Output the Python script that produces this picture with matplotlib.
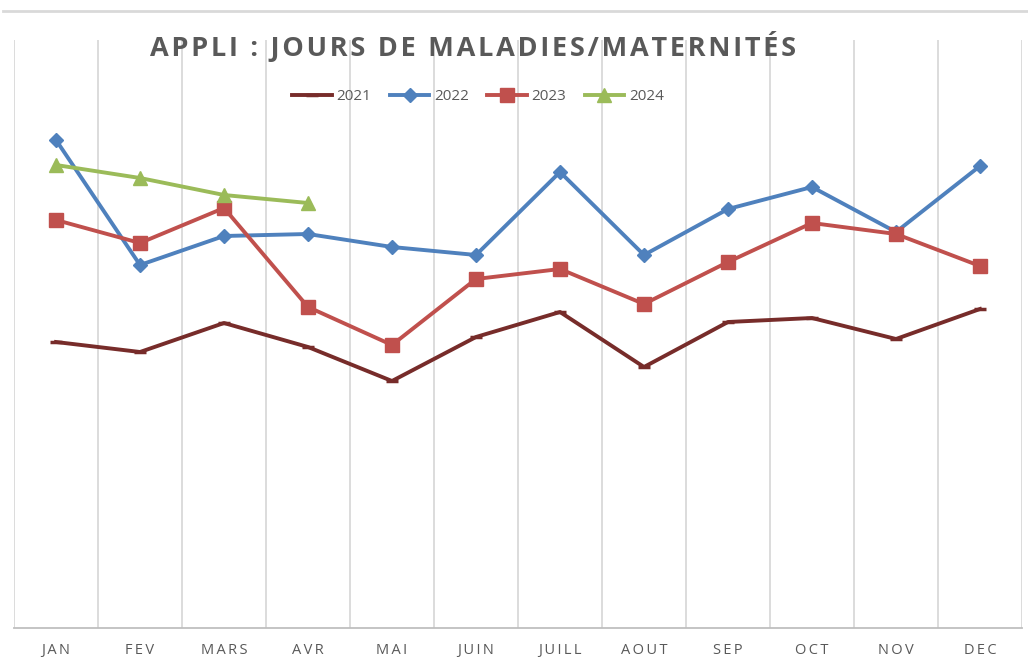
import numpy as np
import matplotlib
matplotlib.use("Agg")
from matplotlib import pyplot as plt
from matplotlib.lines import Line2D

months = ["JAN", "FEV", "MARS", "AVR", "MAI", "JUIN", "JUILL", "AOUT", "SEP", "OCT", "NOV", "DEC"]
v2021 = [28.6, 27.6, 30.5, 28.1, 24.7, 29.1, 31.6, 26.1, 30.6, 31.0, 28.9, 31.9]
v2022 = [48.8, 36.3, 39.2, 39.4, 38.1, 37.3, 45.6, 37.3, 41.9, 44.1, 39.6, 46.2]
v2023 = [40.8, 38.5, 42.0, 32.1, 28.3, 34.9, 35.9, 32.4, 36.6, 40.5, 39.4, 36.2]
v2024 = [46.3, 45.0, 43.3, 42.5]

TEXT = "#595959"
GRID = "#D9D9D9"

plt.rcParams['font.family'] = ['Open Sans', 'DejaVu Sans']


def spaced(s, sep):
    # fake letter spacing like the original
    return sep.join(s)


fig = plt.figure(figsize=(10.28, 6.66), dpi=100)
ax = fig.add_axes([14 / 1028, 38 / 666, 1008 / 1028, 588 / 666])

x = np.arange(len(months))
ax.plot(x, v2021, color="#772C2A", lw=2.8, marker="_", ms=8, mew=2.5, label="2021")
ax.plot(x, v2022, color="#4F81BD", lw=2.8, marker="D", ms=7, label="2022")
ax.plot(x, v2023, color="#C0504D", lw=2.8, marker="s", ms=10, label="2023")
ax.plot(np.arange(len(v2024)), v2024, color="#9BBB59", lw=2.8, marker="^", ms=10, label="2024")

for k in range(-1, len(months)):
    ax.axvline(k + 0.5, color=GRID, lw=1.3, zorder=0)

ax.set_xlim(-0.5, len(months) - 0.5)
ax.set_ylim(0, 58.8)
ax.set_yticks([])
ax.set_xticks(x)
ax.set_xticklabels([spaced(m, "\u2009") for m in months], color=TEXT, fontsize=10.5)
ax.tick_params(axis="x", length=0, pad=11)
for s in ["top", "left", "right"]:
    ax.spines[s].set_visible(False)
ax.spines["bottom"].set_color("#BFBFBF")
ax.spines["bottom"].set_linewidth(1.3)

# thin top border line
fig.add_artist(Line2D([3 / 1028, 1], [1 - 11 / 666, 1 - 11 / 666], color="#D9D9D9", lw=2))

fig.text(473 / 1028, 1 - 46 / 666, spaced("APPLI : JOURS DE MALADIES/MATERNITÉS", "\u200a"),
         ha="center", va="center", fontsize=19.5, fontweight="bold", color=TEXT)

ax.legend(loc="center", bbox_to_anchor=(478 / 1028, 1 - 97 / 666), bbox_transform=fig.transFigure,
          ncol=4, frameon=False, fontsize=11, labelcolor=TEXT, handlelength=2.6,
          handletextpad=0.3, columnspacing=1.2)

fig.savefig("out.png", dpi=100)
